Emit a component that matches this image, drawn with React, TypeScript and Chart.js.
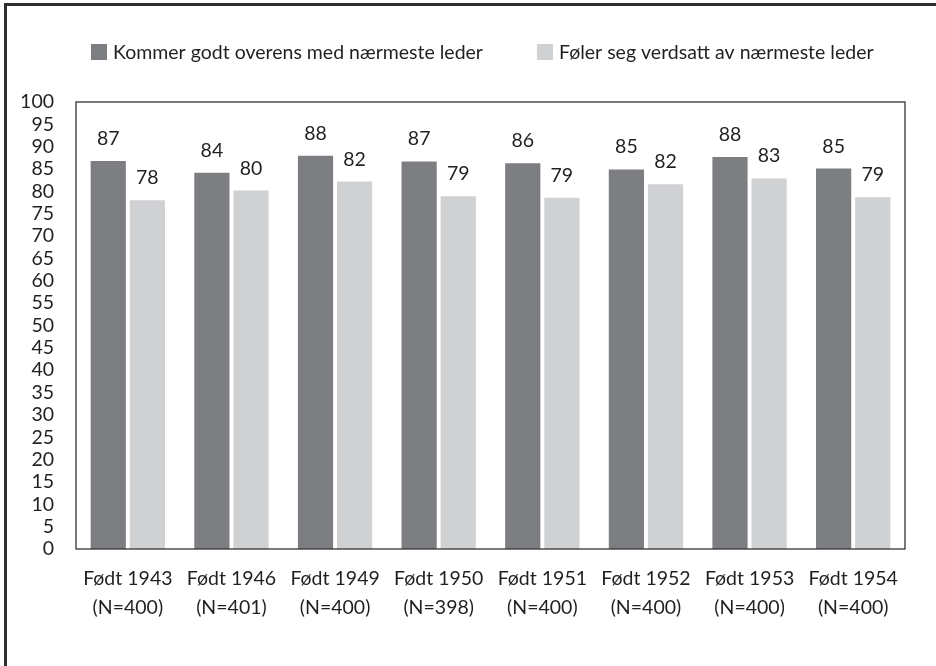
import React, { useEffect, useRef } from "react";
import { Chart, registerables } from "chart.js";

Chart.register(...registerables);

const categories: string[][] = [
  ["Født 1943", "(N=400)"],
  ["Født 1946", "(N=401)"],
  ["Født 1949", "(N=400)"],
  ["Født 1950", "(N=398)"],
  ["Født 1951", "(N=400)"],
  ["Født 1952", "(N=400)"],
  ["Født 1953", "(N=400)"],
  ["Født 1954", "(N=400)"],
];
const seriesNames = [
  "Kommer godt overens med nærmeste leder",
  "Føler seg verdsatt av nærmeste leder",
];
const kommerValues = [86.8, 84.2, 88.0, 86.7, 86.3, 84.9, 87.7, 85.1];
const folerValues = [78.0, 80.2, 82.2, 78.9, 78.6, 81.6, 82.9, 78.7];
const kommerLabels = [87, 84, 88, 87, 86, 85, 88, 85];
const folerLabels = [78, 80, 82, 79, 79, 82, 83, 79];

const FONT = "Lato";
const FONT_SIZE = 19.5;
const TEXT = "#231f20";

const frameBorder = {
  id: "frameBorder",
  afterDatasetsDraw(chart: any) {
    const { ctx, chartArea } = chart;
    ctx.save();
    ctx.strokeStyle = "#333333";
    ctx.lineWidth = 1.3;
    ctx.strokeRect(chartArea.left, chartArea.top, chartArea.right - chartArea.left, chartArea.bottom - chartArea.top);
    ctx.restore();
  },
};

const customLegend = {
  id: "customLegend",
  afterDraw(chart: any) {
    const { ctx, chartArea } = chart;
    ctx.save();
    ctx.font = `${FONT_SIZE}px ${FONT}`;
    ctx.textBaseline = "middle";
    ctx.textAlign = "left";
    let x = chartArea.left + 15;
    const yMid = 52;
    chart.data.datasets.forEach((ds: any) => {
      ctx.fillStyle = ds.backgroundColor;
      ctx.fillRect(x, yMid - 8, 16, 16);
      x += 16 + 6;
      ctx.fillStyle = TEXT;
      ctx.fillText(ds.label, x, yMid + 1);
      x += ctx.measureText(ds.label).width + 54;
    });
    ctx.restore();
  },
};

const valueLabels = {
  id: "valueLabels",
  afterDatasetsDraw(chart: any) {
    const { ctx } = chart;
    const labelSets = [kommerLabels, folerLabels];
    ctx.save();
    ctx.fillStyle = TEXT;
    ctx.font = `${FONT_SIZE}px ${FONT}`;
    ctx.textAlign = "center";
    ctx.textBaseline = "alphabetic";
    chart.data.datasets.forEach((_: any, di: number) => {
      const meta = chart.getDatasetMeta(di);
      meta.data.forEach((bar: any, i: number) => {
        ctx.fillText(String(labelSets[di][i]), bar.x, bar.y - 16);
      });
    });
    ctx.restore();
  },
};

export default function App() {
  const ref = useRef<HTMLCanvasElement>(null);
  useEffect(() => {
    if (!ref.current) return;
    const chart = new Chart(ref.current, {
      type: "bar",
      data: {
        labels: categories,
        datasets: [
          {
            label: seriesNames[0],
            data: kommerValues,
            backgroundColor: "#7d7e82",
            barPercentage: 0.9,
            categoryPercentage: 0.755,
          },
          {
            label: seriesNames[1],
            data: folerValues,
            backgroundColor: "#d0d1d3",
            barPercentage: 0.9,
            categoryPercentage: 0.755,
          },
        ],
      },
      options: {
        animation: false,
        responsive: false,
        maintainAspectRatio: false,
        layout: { padding: { left: 22, right: 31, top: 102, bottom: 4 } },
        plugins: {
          legend: { display: false },
          tooltip: { enabled: false },
        },
        scales: {
          x: {
            grid: { display: false },
            border: { display: false },
            ticks: {
              color: TEXT,
              font: { family: FONT, size: FONT_SIZE, lineHeight: 1.5 },
              padding: 7,
              maxRotation: 0,
              autoSkip: false,
            },
            afterFit(scale: any) {
              scale.height = 113;
            },
          },
          y: {
            min: 0,
            max: 100,
            grid: { display: false },
            border: { display: false },
            ticks: {
              stepSize: 5,
              autoSkip: false,
              color: TEXT,
              font: { family: FONT, size: FONT_SIZE },
              padding: 14,
            },
            afterFit(scale: any) {
              scale.width = 54;
            },
          },
        },
      },
      plugins: [frameBorder, valueLabels, customLegend],
    });
    return () => chart.destroy();
  }, []);
  return (
    <div style={{ position: "absolute", left: 0, top: 0, width: 936, height: 666, background: "#fff", overflow: "hidden" }}>
      <div
        style={{
          position: "absolute",
          left: 4,
          top: 3,
          width: 940,
          height: 670,
          borderLeft: "3px solid #2e2e2e",
          borderTop: "3px solid #2e2e2e",
        }}
      />
      <canvas ref={ref} width={936} height={666} style={{ position: "absolute", left: 0, top: 0 }} />
    </div>
  );
}
